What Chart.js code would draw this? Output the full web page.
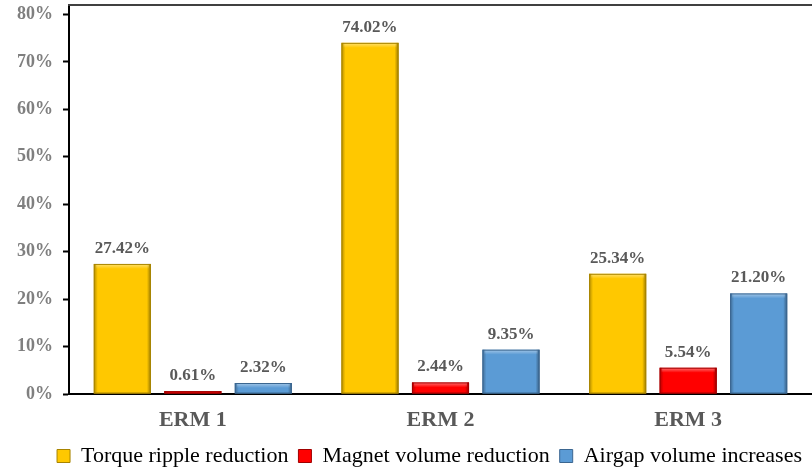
<!DOCTYPE html>
<html>
<head>
<meta charset="utf-8">
<script src="https://cdn.jsdelivr.net/npm/chart.js@4/dist/chart.umd.min.js"></script>
<style>
html,body{margin:0;padding:0;background:#fff;}
#wrap{width:812px;height:470px;position:relative;}
</style>
</head>
<body>
<div id="wrap"><canvas id="c" width="812" height="470"></canvas></div>
<script>
const categories = ["ERM 1", "ERM 2", "ERM 3"];
const seriesNames = ["Torque ripple reduction", "Magnet volume reduction", "Airgap volume increases"];
const torqueRipple = [27.42, 74.02, 25.34];
const magnetVolume = [0.61, 2.44, 5.54];
const airgapVolume = [2.32, 9.35, 21.20];
const yTickValues = [0, 5, 10, 15, 20, 25, 30, 35, 40, 45, 50, 55, 60, 65, 70, 75, 80];
const yMax = 82;

const colors = ["#FFC800", "#FF0000", "#5B9BD5"];
const edgeColors = ["#A88400", "#A00000", "#3B6690"];

const bevelPlugin = {
  id: 'bevel',
  afterDatasetsDraw(chart) {
    const ctx = chart.ctx;
    chart.data.datasets.forEach((ds, di) => {
      const meta = chart.getDatasetMeta(di);
      meta.data.forEach((el) => {
        const w = el.width, x0 = el.x - w / 2, x1 = el.x + w / 2;
        const y0 = el.y, y1 = el.base;
        const h = y1 - y0;
        if (h <= 0) return;
        ctx.save();
        let g = ctx.createLinearGradient(x0, 0, x1, 0);
        g.addColorStop(0, 'rgba(0,0,0,0.30)');
        g.addColorStop(0.07, 'rgba(0,0,0,0.0)');
        g.addColorStop(0.93, 'rgba(0,0,0,0.0)');
        g.addColorStop(1, 'rgba(0,0,0,0.40)');
        ctx.fillStyle = g;
        ctx.fillRect(x0, y0, w, h);
        const bh = Math.min(5, h / 2);
        let gt = ctx.createLinearGradient(0, y0, 0, y0 + bh);
        gt.addColorStop(0, 'rgba(255,255,255,0.45)');
        gt.addColorStop(1, 'rgba(255,255,255,0)');
        ctx.fillStyle = gt;
        ctx.fillRect(x0 + 2, y0, w - 4, bh);
        ctx.strokeStyle = edgeColors[di];
        ctx.lineWidth = 1;
        ctx.strokeRect(x0 + 0.5, y0 + 0.5, w - 1, h - 1);
        ctx.restore();
      });
    });
  }
};

const labelPlugin = {
  id: 'valueLabels',
  afterDatasetsDraw(chart) {
    const ctx = chart.ctx;
    ctx.save();
    ctx.font = 'bold 17px "Liberation Serif", "Times New Roman", serif';
    ctx.fillStyle = '#595959';
    ctx.textAlign = 'center';
    ctx.textBaseline = 'alphabetic';
    chart.data.datasets.forEach((ds, di) => {
      const meta = chart.getDatasetMeta(di);
      meta.data.forEach((el, i) => {
        ctx.fillText(ds.data[i].toFixed(2) + '%', el.x, el.y - 11);
      });
    });
    ctx.restore();
  }
};

const framePlugin = {
  id: 'frame',
  afterDraw(chart) {
    const a = chart.chartArea, ctx = chart.ctx;
    ctx.save();
    ctx.strokeStyle = '#404040';
    ctx.lineWidth = 2;
    ctx.beginPath();
    ctx.moveTo(a.left - 1, a.top);
    ctx.lineTo(a.right, a.top);
    ctx.stroke();
    ctx.restore();
  }
};

const data = {
  labels: categories,
  datasets: [
    { label: seriesNames[0], data: torqueRipple, backgroundColor: colors[0] },
    { label: seriesNames[1], data: magnetVolume, backgroundColor: colors[1] },
    { label: seriesNames[2], data: airgapVolume, backgroundColor: colors[2] }
  ]
};

new Chart(document.getElementById('c'), {
  type: 'bar',
  data: data,
  plugins: [bevelPlugin, labelPlugin, framePlugin],
  options: {
    responsive: false,
    animation: false,
    devicePixelRatio: 1,
    layout: { padding: { top: 5, right: 0, left: 0, bottom: -7 } },
    datasets: { bar: { categoryPercentage: 0.854, barPercentage: 0.81 } },
    plugins: {
      legend: {
        position: 'bottom',
        align: 'end',
        labels: {
          boxWidth: 13,
          boxHeight: 13,
          padding: 10,
          color: '#404040',
          font: { family: '"Liberation Serif", "Times New Roman", serif', size: 22 },
          generateLabels(chart) {
            return chart.data.datasets.map((ds, i) => ({
              text: ds.label,
              fillStyle: colors[i],
              strokeStyle: edgeColors[i],
              lineWidth: 1,
              datasetIndex: i,
              hidden: false
            }));
          }
        }
      },
      tooltip: { enabled: false }
    },
    scales: {
      x: {
        grid: { display: false, drawTicks: false },
        border: { color: '#000', width: 2 },
        afterFit(scale) { scale.height = 41; },
        ticks: {
          color: '#595959',
          padding: 13,
          font: { family: '"Liberation Serif", "Times New Roman", serif', size: 22, weight: 'bold' }
        }
      },
      y: {
        min: 0,
        max: yMax,
        afterBuildTicks(scale) {
          scale.ticks = yTickValues.map(v => ({ value: v }));
        },
        afterFit(scale) { scale.width = 69; scale.paddingTop = 0; scale.paddingBottom = 0; },
        grid: { drawOnChartArea: false, drawTicks: true, tickLength: 6, color: '#000', tickWidth: 2 },
        border: { color: '#000', width: 2 },
        ticks: {
          color: '#7F7F7F',
          padding: 10,
          font: { family: '"Liberation Serif", "Times New Roman", serif', size: 18, weight: 'bold' },
          callback: (v) => (v % 10 === 0 ? v + '%' : '')
        }
      }
    }
  }
});
</script>
</body>
</html>
